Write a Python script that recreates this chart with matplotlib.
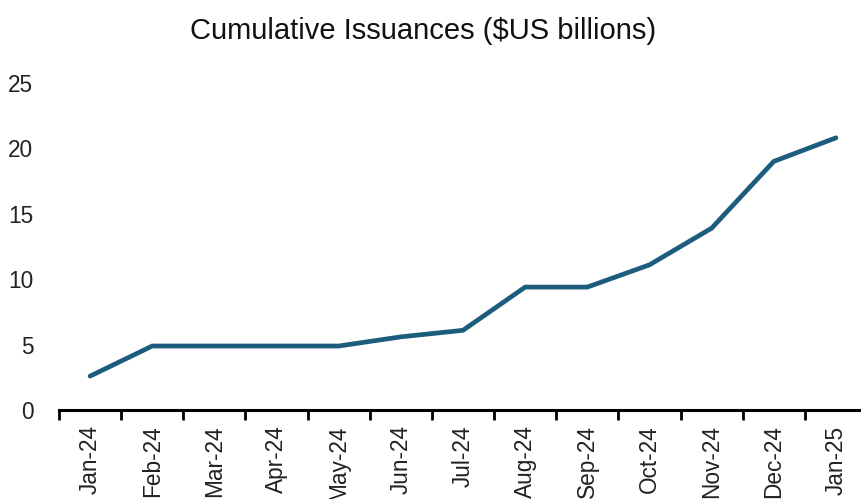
from matplotlib import pyplot as plt

plt.rcParams.update({
    'font.family': ['Liberation Sans', 'DejaVu Sans'],
    'font.size': 16.3,
})

months = ['Jan-24', 'Feb-24', 'Mar-24', 'Apr-24', 'May-24', 'Jun-24', 'Jul-24',
          'Aug-24', 'Sep-24', 'Oct-24', 'Nov-24', 'Dec-24', 'Jan-25']
cumulative = [2.6, 4.9, 4.9, 4.9, 4.9, 5.6, 6.1, 9.4, 9.4, 11.1, 13.9, 19.0, 20.8]

line_color = '#1c5d7e'

fig = plt.figure(figsize=(8.61, 4.99), dpi=100)
ax = fig.add_axes([0.0685, 0.178, 0.9385, 0.656])

x = list(range(len(months)))
ax.plot(x, cumulative, color=line_color, lw=3.4, solid_capstyle='round', solid_joinstyle='miter')

ax.set_xlim(-0.5, len(months) - 0.5)
ax.set_ylim(0, 25)
ax.set_yticks([0, 5, 10, 15, 20, 25])

# month labels sit at the centres, tick marks at the boundaries
ax.set_xticks(x)
ax.set_xticklabels(months, rotation=90)
ax.set_xticks([i - 0.5 for i in range(len(months) + 1)], minor=True)
ax.tick_params(axis='x', which='major', length=0, pad=11)
ax.tick_params(axis='x', which='minor', length=7, width=2, direction='out', color='black')
ax.tick_params(axis='y', length=0, pad=18.5, colors='#222222')
ax.tick_params(axis='x', labelcolor='#222222')

for side in ['top', 'right', 'left']:
    ax.spines[side].set_visible(False)
ax.spines['bottom'].set_linewidth(2.2)
ax.spines['bottom'].set_color('black')

fig.text(0.491, 0.937, 'Cumulative Issuances ($US billions)', ha='center', va='center',
         fontsize=21, color='#111111')

fig.savefig('out.png', dpi=100)
